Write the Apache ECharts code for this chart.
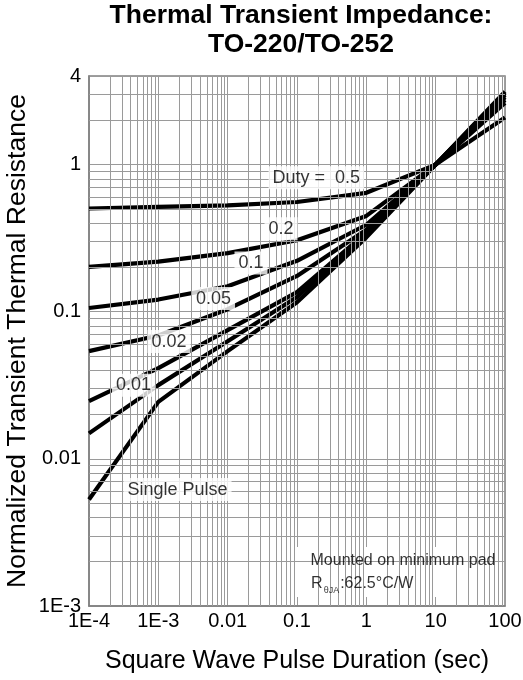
<!DOCTYPE html>
<html><head><meta charset="utf-8">
<script src="https://cdn.jsdelivr.net/npm/echarts@6/dist/echarts.min.js"></script>
<style>html,body{margin:0;padding:0;background:#fff}#c{width:523px;height:680px}</style>
</head><body><div id="c"></div>
<script>
// ---- text ----
const titleLines = ['Thermal Transient Impedance:', 'TO-220/TO-252'];
const xAxisTitle = 'Square Wave Pulse Duration (sec)';
const yAxisTitle = 'Normalized Transient Thermal Resistance';

// ---- data (normalized Zth vs pulse duration) ----
const pulseDurations = [1e-4, 1e-3, 0.01, 0.1, 1, 10, 100];
const duty05  = [0.503, 0.516, 0.528, 0.557, 0.643, 1.0, 2.09];
const duty02  = [0.202, 0.219, 0.250, 0.306, 0.448, 1.0, 2.62];
const duty01  = [0.106, 0.121, 0.149, 0.222, 0.390, 1.0, 2.75];
const duty005 = [0.054, 0.069, 0.104, 0.175, 0.360, 1.0, 2.87];
const duty002 = [0.0247, 0.0414, 0.075, 0.136, 0.345, 1.0, 2.97];
const duty001 = [0.0149, 0.0317, 0.063, 0.126, 0.335, 1.0, 3.05];
const singlePulse = [0.0053, 0.0244, 0.054, 0.116, 0.320, 1.0, 3.13];
const curves = [duty05, duty02, duty01, duty005, duty002, duty001, singlePulse];
const curveNames = ['0.5', '0.2', '0.1', '0.05', '0.02', '0.01', 'Single Pulse'];

// ---- ticks ----
const xTickValues = [1e-4, 1e-3, 0.01, 0.1, 1, 10, 100];
const xTickLabels = ['1E-4', '1E-3', '0.01', '0.1', '1', '10', '100'];
const yTickValues = [1e-3, 0.01, 0.1, 1, 4];
const yTickLabels = ['1E-3', '0.01', '0.1', '1', '4'];
const xDecades = [1e-4, 1e-3, 0.01, 0.1, 1, 10];
const yDecades = [1e-3, 0.01, 0.1];
const minorMultipliers = [2, 3, 4, 5, 6, 7, 8, 9];
const yTopMultipliers = [2, 3];

// ---- in-plot annotations (data coordinates) ----
const curveLabelText = ['Duty =  0.5', '0.2', '0.1', '0.05', '0.02', '0.01', 'Single Pulse'];
const curveLabelX = [0.19, 0.0588, 0.0217, 0.00625, 0.001426, 0.000438, 0.00189];
const curveLabelY = [0.815, 0.367, 0.214, 0.1228, 0.0627, 0.0317, 0.00618];
const noteBoxX = [0.0628, 76.7];
const noteBoxY = [0.00115, 0.00252];
const noteTextX = [0.154, 0.157];
const noteTextY = [0.00205, 0.00143];

const FONT = "'Liberation Sans', Arial, sans-serif";

function nearestLabel(v, vals, labels) {
  let best = 0, bd = Infinity;
  vals.forEach((t, i) => { const d = Math.abs(Math.log10(v) - Math.log10(t)); if (d < bd) { bd = d; best = i; } });
  return bd < 0.05 ? labels[best] : '';
}

const xMinor = [];
xDecades.forEach(d => minorMultipliers.forEach(k => xMinor.push(k * d)));
const yMinor = [];
yDecades.forEach(d => minorMultipliers.forEach(k => yMinor.push(k * d)));
yTopMultipliers.forEach(k => yMinor.push(k));

const gridColor = '#9a9a9a';

const series = [];
// minor grid lines
series.push({
  type: 'line', data: [], z: 1, silent: true,
  markLine: {
    silent: true, symbol: ['none', 'none'], animation: false, precision: 12,
    label: { show: false },
    lineStyle: { color: gridColor, width: 1, type: 'solid' },
    emphasis: { disabled: true },
    data: xMinor.map(v => ({ xAxis: v })).concat(yMinor.map(v => ({ yAxis: v })))
  }
});
// curves
curves.forEach((arr, ci) => {
  series.push({
    name: curveNames[ci], type: 'line', z: 3, silent: true, showSymbol: false,
    data: pulseDurations.map((x, i) => [x, arr[i]]),
    lineStyle: { color: '#000', width: 4.2, cap: 'butt', join: 'round' },
    animation: false
  });
});
// note box background
series.push({
  type: 'line', data: [], z: 4, silent: true,
  markArea: {
    silent: true, animation: false,
    itemStyle: { color: '#fff', opacity: 1 },
    label: { show: false },
    data: [[{ coord: [noteBoxX[0], noteBoxY[0]] }, { coord: [noteBoxX[1], noteBoxY[1]] }]]
  }
});
// curve labels
series.push({
  type: 'scatter', z: 6, silent: true, symbolSize: 1, animation: false,
  itemStyle: { color: 'rgba(0,0,0,0)' },
  data: curveLabelX.map((x, i) => [x, curveLabelY[i]]),
  label: {
    show: true, position: 'inside', color: '#000', fontFamily: FONT, fontSize: 18,
    backgroundColor: '#fff', padding: [3, 4, 2, 4],
    formatter: p => curveLabelText[p.dataIndex]
  }
});
// note text
series.push({
  type: 'scatter', z: 6, silent: true, symbolSize: 1, animation: false,
  itemStyle: { color: 'rgba(0,0,0,0)' },
  data: noteTextX.map((x, i) => [x, noteTextY[i]]),
  label: {
    show: true, position: 'right', distance: 0, color: '#000', fontFamily: FONT, fontSize: 16,
    formatter: p => p.dataIndex === 0 ? 'Mounted on minimum pad' : '{r|R}{s|\u03b8JA}{t|:62.5\u00b0C/W}',
    rich: {
      r: { fontSize: 16, fontFamily: FONT, color: '#000' },
      s: { fontSize: 9, fontFamily: FONT, color: '#000', padding: [14, 1, 0, 1] },
      t: { fontSize: 16, fontFamily: FONT, color: '#000' }
    }
  }
});

const chart = echarts.init(document.getElementById('c'), null, { renderer: 'canvas' });
chart.setOption({
  animation: false,
  backgroundColor: '#fff',
  textStyle: { fontFamily: FONT },
  grid: { left: 89, right: 18, top: 76, bottom: 74, show: true, borderColor: '#808080', borderWidth: 1.5,
    containLabel: false, outerBoundsMode: 'none' },
  graphic: [{
    type: 'text', z: 10, x: 301, y: 1,
    style: {
      text: titleLines.join('\n'), font: 'bold 26.5px ' + FONT, fill: '#000',
      align: 'center', verticalAlign: 'top', lineHeight: 29
    }
  }],
  xAxis: {
    type: 'log', logBase: 10, min: 1e-4, max: 100,
    name: xAxisTitle, nameLocation: 'middle', nameGap: 43, nameMoveOverlap: false,
    nameTextStyle: { fontSize: 25, color: '#000', fontFamily: FONT },
    axisLine: { show: true, lineStyle: { color: '#808080', width: 1.5 } },
    axisTick: { show: false },
    splitLine: { show: true, lineStyle: { color: gridColor, width: 1 } },
    axisLabel: { color: '#000', fontSize: 20, margin: 5, fontFamily: FONT,
      formatter: v => nearestLabel(v, xTickValues, xTickLabels) }
  },
  yAxis: {
    type: 'log', logBase: 10, min: 1e-3, max: 4,
    name: yAxisTitle, nameLocation: 'middle', nameGap: 58, nameRotate: 90, nameMoveOverlap: false,
    nameTextStyle: { fontSize: 26.5, color: '#000', fontFamily: FONT },
    axisLine: { show: true, lineStyle: { color: '#808080', width: 1.5 } },
    axisTick: { show: false },
    splitLine: { show: true, lineStyle: { color: gridColor, width: 1 } },
    axisLabel: { color: '#000', fontSize: 20, margin: 8, fontFamily: FONT,
      formatter: v => nearestLabel(v, yTickValues, yTickLabels) }
  },
  series: series
});
</script></body></html>
